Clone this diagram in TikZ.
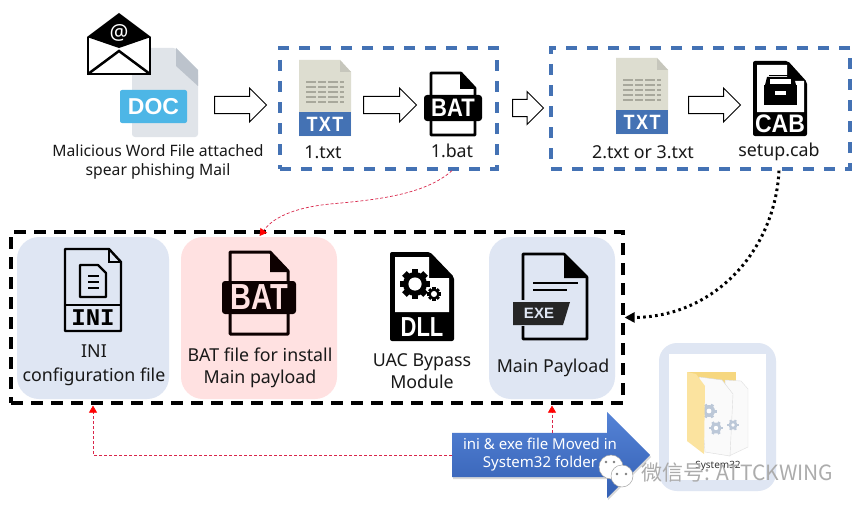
\documentclass[tikz,border=0pt]{standalone}
\usepackage{fontspec}
\usepackage{graphicx}
\setmainfont{Noto Sans}
\newfontfamily\cjk{Noto Sans CJK SC}
\newfontfamily\iconfont{Liberation Sans}
\newfontfamily\inifont{Liberation Mono}
\usetikzlibrary{shapes.arrows,shadows,arrows.meta,calc}
\definecolor{dashblue}{HTML}{4472B4}
\definecolor{softblue}{HTML}{DFE6F3}
\definecolor{softpink}{HTML}{FFE1E1}
\definecolor{txtpage}{HTML}{DDDDD0}
\definecolor{txtline}{HTML}{A8A89C}
\definecolor{docpage}{HTML}{E0E4E9}
\definecolor{docfold}{HTML}{BCC3CC}
\definecolor{docblue}{HTML}{4DB6E6}
\definecolor{redline}{HTML}{D9264A}
\definecolor{gearcol}{HTML}{BCC8D8}
\definecolor{foldera}{HTML}{F6D77F}
\definecolor{folderb}{HTML}{FBE39F}
\definecolor{movetop}{HTML}{5583D6}
\definecolor{movebot}{HTML}{3460B4}
\tikzset{
  hollow/.style={draw=black,fill=white,line width=1pt,single arrow,anchor=west,inner xsep=0pt,inner ysep=8pt,
    single arrow head extend=8.5pt,minimum width=33pt},
  bluebox/.style={draw=dashblue,line width=3.2pt,dash pattern=on 11pt off 10pt,inner sep=0pt},
  blackbox/.style={draw=black,line width=3.2pt,dash pattern=on 12pt off 8pt,inner sep=0pt},
  softbox/.style={rounded corners=22pt,inner sep=0pt},
  lab/.style={font=\fontsize{17.8}{22}\selectfont,align=center,inner sep=0pt,text=black!90},
  icontext/.style={inner sep=0pt,font=\iconfont\fontsize{#1}{#1}\selectfont\bfseries,text=white},
  redarrow/.style={draw=redline,line width=.7pt,dash pattern=on 3pt off 2pt,shorten >=1pt,-{Triangle[length=7pt,width=8pt,fill=red,color=red]}},
}
\newcommand{\txticon}[2]{% left x, top y
  \fill[txtpage] (#1,#2) -- ++(41,0) -- ++(11,12) -- ++(0,64) -- ++(-52,0) -- cycle;
  \fill[txtpage!75!gray] (#1+41,#2) -- ++(11,12) -- ++(-11,0) -- cycle;
  \fill[dashblue] (#1,#2+52) rectangle ++(52,24);
  \foreach \yy in {22,27,32,37,42}{
    \draw[txtline,line width=1.6pt,dash pattern=on 10pt off 2pt on 8pt off 2pt]
      (#1+7,#2+\yy) -- (#1+45,#2+\yy);}
}
\newcommand{\gearshape}[3]{% x,y,r
  \foreach \an in {0,45,...,315}{\draw[black,line width=#3*.55pt] (#1,#2)+(\an:#3*.7) -- +(\an:#3*1.25);}
  \fill[black] (#1,#2) circle (#3);
  \fill[white] (#1,#2) circle (#3*.55);
}
\newcommand{\softgear}[3]{% x,y,r
  \foreach \an in {0,60,...,300}{\draw[gearcol,line width=#3*.5pt] (#1,#2)+(\an:#3*.7) -- +(\an:#3*1.25);}
  \fill[gearcol] (#1,#2) circle (#3);
  \fill[white] (#1,#2) circle (#3*.4);
}
\begin{document}
\begin{tikzpicture}[x=1pt,y=-1pt]
\useasboundingbox (0,0) rectangle (860,511);
\fill[white] (0,0) rectangle (860,511);

% ---- DOC + mail
\fill[docpage,rounded corners=3pt] (132,48) -- (176,48) -- (198,72) -- (198,137) -- (132,137) -- cycle;
\fill[docfold] (176,48) -- (198,70) -- (198,86) -- (176,66) -- cycle;
\fill[docblue,rounded corners=2pt] (120,90) rectangle (187,123);
\node[icontext=23] (doctext) at (153.5,107) {DOC};
\fill[white] (88,37) -- (119,13) -- (150,37) -- (150,74) -- (88,74) -- cycle;
\draw[black,line width=2.5pt,line join=miter] (88,37) -- (88,74) -- (150,74) -- (150,37);
\draw[black,line width=2.5pt] (88,74) -- (119,51) -- (150,74);
\fill[black] (87,37) -- (119,13) -- (151,37) -- (119,48) -- cycle;
\node[inner sep=0pt,text=white,font=\fontsize{21}{21}\selectfont] (atsign) at (119,33) {@};
\node[lab,font=\fontsize{15.7}{19}\selectfont] (mailtext) at (158,161.5) {Malicious Word File attached\\spear phishing Mail};

\node[hollow,minimum height=52pt] (arrowa) at (214,105) {};

% ---- first dashed group
\node[bluebox,minimum width=217pt,minimum height=121pt] (groupone) at (388.5,108.5) {};
\txticon{299}{60}
\node[icontext=18] (txtone) at (325,124) {\scalebox{1}[1.15]{T\kern1.5pt X\kern1.5pt T}};
\node[lab] (onetxt) at (323,152) {1.txt};
\node[hollow,minimum height=53pt] (arrowb) at (363,105) {};
\draw[black,line width=2.6pt,line join=round,fill=white] (431,73) -- (461,73) -- (475,88) -- (475,135) -- (431,135) -- cycle;
\fill[black] (460,73) -- (476,89) -- (460,89) -- cycle;
\fill[black,rounded corners=3pt] (424,95) rectangle (482,121);
\node[icontext=22] (batone) at (453,108) {\scalebox{1}[1.15]{BAT}};
\node[lab] (onebat) at (452,151) {1.bat};
\node[hollow,minimum height=31pt,minimum width=32pt,single arrow head extend=8pt] (arrowc) at (512,108) {};

% ---- second dashed group
\node[bluebox,minimum width=299pt,minimum height=121pt] (grouptwo) at (700.5,108.5) {};
\txticon{616}{58}
\node[icontext=18] (txttwo) at (642,122) {\scalebox{1}[1.15]{T\kern1.5pt X\kern1.5pt T}};
\node[lab] (twotxt) at (643,152) {2.txt or 3.txt};
\node[hollow,minimum height=52pt] (arrowd) at (688,105) {};
\fill[black,rounded corners=2pt] (753,61) -- (788,61) -- (807,82) -- (807,136) -- (753,136) -- cycle;
\fill[white] (757,65) -- (787,65) -- (787,81) -- (804,81) -- (804,112) -- (757,112) -- cycle;
\fill[black] (764,85) -- (797,85) -- (797,105) -- (764,105) -- cycle;
\fill[black] (767,77) -- (794,77) -- (796,85) -- (765,85) -- cycle;
\fill[white] (770,79) rectangle (791,84);
\fill[black] (769,75) rectangle (792,76.5);
\fill[white] (775,91) rectangle (786,95);
\node[icontext=23] (cabtext) at (780,124) {\scalebox{1}[1.1]{CAB}};
\node[lab] (setup) at (779,152) {setup.cab};

% ---- black dashed group
\node[blackbox,minimum width=612pt,minimum height=171pt] (groupthree) at (317,317.5) {};
\node[softbox,fill=softblue,minimum width=152pt,minimum height=162pt] (iniback) at (93,318) {};
\node[softbox,fill=softpink,minimum width=156pt,minimum height=162pt] (batback) at (259,318) {};
\node[softbox,fill=softblue,minimum width=126pt,minimum height=162pt] (exeback) at (552,318) {};

% INI icon
\draw[black,line width=2.4pt,line join=round] (65,249) -- (109,249) -- (121,262) -- (121,331) -- (65,331) -- cycle;
\draw[black,line width=2.2pt] (109,249) -- (109,262) -- (121,262);
\draw[black,line width=2.4pt] (65,305) -- (121,305);
\draw[black,line width=2.2pt,line join=round] (80,265) -- (98,265) -- (106,273) -- (106,297) -- (80,297) -- cycle;
\draw[black,line width=1.8pt] (88,276) -- (99,276) (88,282) -- (99,282) (88,288) -- (99,288);
\node[inner sep=0pt,font=\inifont\fontsize{24}{24}\selectfont\bfseries] (initext) at (93,318) {INI};
\node[lab] (inilabel) at (94,365) {INI\\[2pt]configuration file};

% big BAT icon
\draw[black!95!red,line width=3pt,line join=round] (230,252) -- (270,252) -- (288,271) -- (288,334) -- (230,334) -- cycle;
\fill[black!95!red] (270,252) -- (289,272) -- (270,272) -- cycle;
\fill[black!95!red,rounded corners=3pt] (222,281) rectangle (296,314);
\node[icontext=29,text=softpink] (batbig) at (259,297.5) {\scalebox{1}[1.25]{BAT}};
\node[lab] (batlabel) at (260,368) {BAT file for install\\Main payload};

% DLL icon
\fill[black,rounded corners=2pt] (390,252) -- (430,252) -- (454,277) -- (454,341) -- (390,341) -- cycle;
\fill[white] (395,257) -- (429,257) -- (429,278) -- (449,278) -- (449,312) -- (395,312) -- cycle;
\gearshape{415}{284}{12}
\gearshape{434}{294}{5.5}
\node[icontext=22] (dlltext) at (422,327) {\scalebox{1}[1.25]{DLL}};
\node[lab] (dlllabel) at (422,371) {UAC Bypass\\Module};

% EXE icon
\draw[black,line width=2.6pt,line join=round] (523,254) -- (564,254) -- (587,277) -- (587,339) -- (523,339) -- cycle;
\fill[black] (564,254) -- (588,278) -- (564,278) -- cycle;
\fill[softblue] (514,300) rectangle (530,326);
\draw[black,line width=2.4pt] (533,283) -- (578,283) (533,290) -- (567,290);
\fill[black!85] (513,302) -- (570,302) -- (563,325) -- (513,325) -- cycle;
\node[icontext=15,text=softblue] (exetext) at (539,313.5) {EXE};
\node[lab] (exelabel) at (553,368) {Main Payload};

% ---- folder
\node[rounded corners=18pt,fill=softblue,minimum width=117pt,minimum height=148pt,inner sep=0pt] (folderback) at (717.5,417) {};
\node[fill=white,minimum width=97pt,minimum height=126pt,inner sep=0pt] (folderpane) at (717.5,417) {};
\fill[foldera] (687,372) rectangle (736,425);
\fill[white!96!gray,draw=black!12,line width=.4pt] (725,380) -- (741,381) -- (748,389) -- (748,447) -- (729,456) -- cycle;
\fill[white!96!gray,draw=black!14,line width=.4pt] (699,377) -- (722,380) -- (733,394) -- (730,456) -- (705,452) -- cycle;
\softgear{709}{411}{6}
\softgear{716}{428}{5.5}
\softgear{733}{425}{4.5}
\fill[folderb] (687,372) -- (696,374) -- (705,386) -- (704,454) -- (687,441) -- cycle;
\node[inner sep=0pt,font=\fontsize{10}{10}\selectfont,text=black!80] (systemtext) at (718,466) {System32};

% ---- big arrow
\node[single arrow,minimum height=198pt,minimum width=86pt,single arrow head extend=21pt,inner xsep=0pt,inner ysep=22pt,
  anchor=west,top color=movetop,bottom color=movebot,draw=none,
  drop shadow={opacity=.3,shadow xshift=1pt,shadow yshift=-2pt}] (movearrow) at (452,455) {};
\node[inner sep=0pt,align=center,text=white,font=\fontsize{15}{18}\selectfont] (movetext) at (540,455) {ini \& exe file Moved in\\System32 folder};
\coordinate (moveup) at (552,433);

% ---- connectors
\draw[redarrow] (groupone.south -| onebat) .. controls (425,195) and (375,200) .. (330,204)
   .. controls (300,207) and (275,215) .. (batback.north);
\draw[black,line width=3pt,dash pattern=on 2.6pt off 3.4pt,-{Triangle[length=10pt,width=10pt,fill=black]}]
   (grouptwo.south -| setup) .. controls (775,250) and (715,317) .. (groupthree.east);
\draw[redarrow] (movearrow.west) -- (movearrow.west -| iniback) -- (groupthree.south -| iniback);
\draw[redarrow] (moveup) -- (groupthree.south -| moveup);

% ---- watermark
\fill[white,draw=gray!70,line width=.5pt] (611,467) circle (12);
\fill[white,draw=gray!70,line width=.5pt] (622,476) circle (11);
\foreach \ex/\ey in {606/462,614/462,617/474,626/474}{\fill[gray] (\ex,\ey) circle (1.3);}
\node[inner sep=0pt,anchor=west,text=gray!65,font=\fontsize{21}{21}\cjk\selectfont] (watermark) at (641,473) {微信号: ATTCKWING};
\end{tikzpicture}
\end{document}
